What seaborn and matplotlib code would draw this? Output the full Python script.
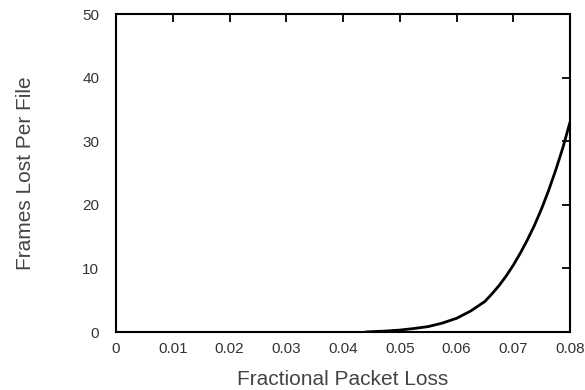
import matplotlib
matplotlib.use("Agg")
import matplotlib.pyplot as plt
import seaborn as sns
import pandas as pd

# Data
packet_loss = [0.044, 0.045, 0.0475, 0.05, 0.0525, 0.055, 0.0575, 0.06, 0.0625,
               0.065, 0.06625, 0.0675, 0.06875, 0.07, 0.07125, 0.0725, 0.07375,
               0.075, 0.07625, 0.0775, 0.07875, 0.08]
frames_lost = [0.0, 0.05, 0.15, 0.3, 0.55, 0.85, 1.4, 2.15, 3.3,
               4.8, 6.0, 7.3, 8.8, 10.5, 12.4, 14.5, 16.8,
               19.4, 22.3, 25.5, 29.0, 33.0]
x_ticks = [0, 0.01, 0.02, 0.03, 0.04, 0.05, 0.06, 0.07, 0.08]
x_tick_labels = ["0", "0.01", "0.02", "0.03", "0.04", "0.05", "0.06", "0.07", "0.08"]
y_ticks = [0, 10, 20, 30, 40, 50]
y_tick_labels = ["0", "10", "20", "30", "40", "50"]

sns.set_theme(style="white")
plt.rcParams["font.family"] = ["Liberation Sans", "DejaVu Sans"]

df = pd.DataFrame({"loss": packet_loss, "frames": frames_lost})

fig = plt.figure(figsize=(5.85, 3.9), dpi=100)
ax = fig.add_axes([116 / 585, 1 - 332 / 390, (570 - 116) / 585, (332 - 14) / 390])

sns.lineplot(data=df, x="loss", y="frames", ax=ax, color="black", linewidth=2.0)

ax.set_xlim(0, 0.08)
ax.set_ylim(0, 50)
ax.set_xticks(x_ticks)
ax.set_xticklabels(x_tick_labels)
ax.set_yticks(y_ticks)
ax.set_yticklabels(y_tick_labels)

for s in ax.spines.values():
    s.set_visible(True)
    s.set_color("black")
    s.set_linewidth(1.5)

ax.tick_params(axis="both", which="both", direction="in", length=6, width=1.3,
               color="black", top=True, right=True, labelsize=11, labelcolor="#333333")
ax.tick_params(axis="x", pad=7)
ax.tick_params(axis="y", pad=12)

ax.set_xlabel("Fractional Packet Loss", fontsize=15, color="#444444", labelpad=10)
ax.set_ylabel("Frames Lost Per File", fontsize=15, color="#444444", labelpad=34)

fig.savefig("out.png", dpi=100, facecolor="white")
